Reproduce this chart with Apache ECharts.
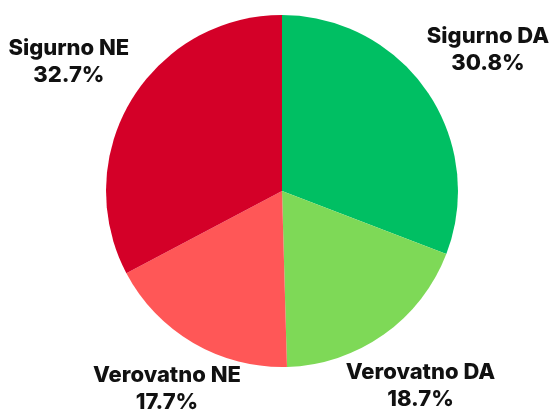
<!DOCTYPE html>
<html>
<head>
<meta charset="utf-8">
<script src="https://cdn.jsdelivr.net/npm/echarts@6/dist/echarts.min.js"></script>
<style>
  html, body { margin: 0; padding: 0; background: #fff; }
  #chart { width: 552px; height: 410px; }
</style>
</head>
<body>
<div id="chart"></div>
<script>
// podaci
var categories = ['Sigurno DA', 'Verovatno DA', 'Verovatno NE', 'Sigurno NE'];
var values = [30.8, 18.7, 17.7, 32.7];
var colors = ['#00bf63', '#7ed957', '#ff5757', '#d40028'];
// pomeranje natpisa (px)
var labelOffsets = [[0, 1], [-6, -9], [11, -18], [1, 0]];

var myChart = echarts.init(document.getElementById('chart'));

var pieData = [];
var labelData = [];
for (var i = 0; i < categories.length; i++) {
    pieData.push({
        name: categories[i],
        value: values[i],
        itemStyle: { color: colors[i] }
    });
    labelData.push({
        name: categories[i],
        value: values[i],
        itemStyle: { color: 'rgba(0,0,0,0)' },
        label: { offset: labelOffsets[i] }
    });
}

var center = [282, 191];

var option = {
    animation: false,
    series: [
        {
            type: 'pie',
            center: center,
            radius: [0, 176],
            startAngle: 90,
            clockwise: true,
            silent: true,
            data: pieData,
            label: { show: false },
            labelLine: { show: false },
            itemStyle: { borderWidth: 0 }
        },
        {
            // nevidljivi krug samo za natpise
            type: 'pie',
            center: center,
            radius: [0, 494],
            startAngle: 90,
            clockwise: true,
            silent: true,
            data: labelData,
            label: {
                show: true,
                position: 'inside',
                formatter: function (p) {
                    return p.name + '\n' + p.value.toFixed(1) + '%';
                },
                fontFamily: 'Inter',
                fontWeight: 800,
                fontSize: 22,
                lineHeight: 27,
                color: '#111111',
                align: 'center'
            },
            labelLine: { show: false }
        }
    ]
};

myChart.setOption(option);
</script>
</body>
</html>
